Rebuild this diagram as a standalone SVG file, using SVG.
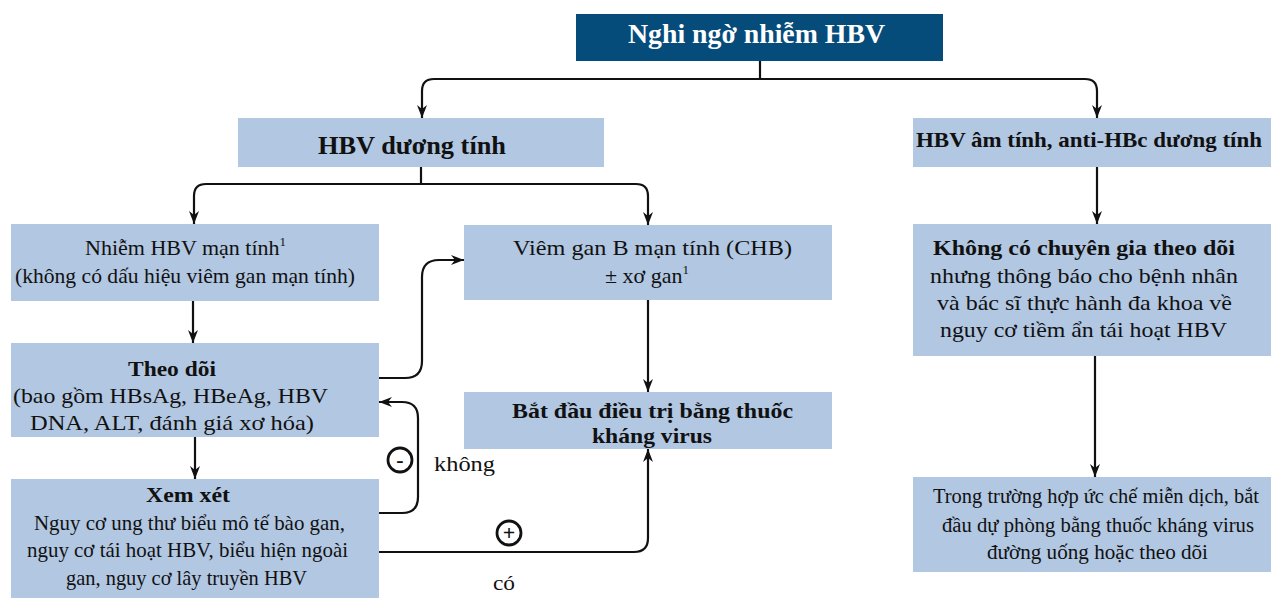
<svg xmlns="http://www.w3.org/2000/svg" width="1271" height="600" viewBox="0 0 1271 600">
<style>
.box{fill:#b1c7e2}
.top{fill:#064c7b}
.t{font-family:"Liberation Serif","Times New Roman",serif;font-size:22px;fill:#111;text-anchor:middle}
.b{font-weight:bold}
.w{fill:#fff;font-size:27px}
.h{font-size:25px}
.n{font-size:20px}
.c{fill:none;stroke:#111;stroke-width:2.2}
.ca{fill:none;stroke:#111;stroke-width:2.2;marker-end:url(#ah)}
.circ{fill:#fff;stroke:#111;stroke-width:2.8}
</style>
<defs>
<marker id="ah" viewBox="0 0 13 10" refX="13" refY="5" markerWidth="13" markerHeight="10" markerUnits="userSpaceOnUse" orient="auto">
<path d="M0,0 L13,5 L0,10 L4,5 z" fill="#111"/>
</marker>
</defs>
<rect width="1271" height="600" fill="#fff"/>

<g id="connectors">
<path class="c" d="M760,61 V79"/>
<path class="ca" d="M760,79 H434 Q422,79 422,91 V118"/>
<path class="ca" d="M760,79 H1085 Q1097,79 1097,91 V118"/>
<path class="c" d="M421,167 V184"/>
<path class="ca" d="M421,184 H206 Q194,184 194,196 V224"/>
<path class="ca" d="M421,184 H636 Q648,184 648,196 V225"/>
<path class="ca" d="M193,301 V343"/>
<path class="ca" d="M195,437 V479"/>
<path class="ca" d="M379,378 H405 Q422,378 422,361 V277 Q422,260 439,260 H464"/>
<path class="ca" d="M379,513 H402 Q418,513 418,497 V418 Q418,402 402,402 H379"/>
<path class="ca" d="M648,300 V392"/>
<path class="ca" d="M379,552 H634 Q648,552 648,538 V449"/>
<path class="ca" d="M1097,167 V224"/>
<path class="ca" d="M1095,356 V477"/>
<circle class="circ" cx="400" cy="460" r="12"/>
<text class="t b" x="400" y="467" font-size="20">-</text>
<circle class="circ" cx="509" cy="533" r="12"/>
<text class="t b" x="509" y="540" font-size="20">+</text>
<text class="t" x="434" y="471" style="text-anchor:start" textLength="61" lengthAdjust="spacingAndGlyphs">không</text>
<text class="t" x="493" y="590" style="text-anchor:start" textLength="22" lengthAdjust="spacingAndGlyphs">có</text>
</g>

<g id="n-top">
<rect class="top" x="576" y="14" width="367" height="47"/>
<text class="t b w" x="756.5" y="43" textLength="257" lengthAdjust="spacingAndGlyphs">Nghi ngờ nhiễm HBV</text>
</g>

<g id="n-pos">
<rect class="box" x="238" y="118" width="366" height="49"/>
<text class="t b h" x="412" y="154" textLength="188" lengthAdjust="spacingAndGlyphs">HBV dương tính</text>
</g>

<g id="n-neg">
<rect class="box" x="913" y="118" width="358" height="49"/>
<text class="t b" x="1089" y="147" font-size="23" textLength="346" lengthAdjust="spacingAndGlyphs">HBV âm tính, anti-HBc dương tính</text>
</g>

<g id="n-chronic">
<rect class="box" x="11" y="224" width="368" height="77"/>
<text class="t" x="85" y="255" style="text-anchor:start">Nhiễm HBV mạn tính<tspan font-size="13" dy="-9">1</tspan></text>
<text class="t" x="185" y="283" textLength="340" lengthAdjust="spacingAndGlyphs">(không có dấu hiệu viêm gan mạn tính)</text>
</g>

<g id="n-monitor">
<rect class="box" x="11" y="343" width="368" height="94"/>
<text class="t b" x="172" y="376" textLength="88" lengthAdjust="spacingAndGlyphs">Theo dõi</text>
<text class="t" x="170.5" y="403" textLength="315" lengthAdjust="spacingAndGlyphs">(bao gồm HBsAg, HBeAg, HBV</text>
<text class="t" x="172" y="430" textLength="284" lengthAdjust="spacingAndGlyphs">DNA, ALT, đánh giá xơ hóa)</text>
</g>

<g id="n-consider">
<rect class="box" x="11" y="479" width="368" height="119"/>
<text class="t b" x="188" y="502" textLength="84" lengthAdjust="spacingAndGlyphs">Xem xét</text>
<text class="t" x="189.5" y="530" textLength="311" lengthAdjust="spacingAndGlyphs">Nguy cơ ung thư biểu mô tế bào gan,</text>
<text class="t" x="187.5" y="557" textLength="321" lengthAdjust="spacingAndGlyphs">nguy cơ tái hoạt HBV, biểu hiện ngoài</text>
<text class="t" x="186.5" y="585" textLength="241" lengthAdjust="spacingAndGlyphs">gan, nguy cơ lây truyền HBV</text>
</g>

<g id="n-chb">
<rect class="box" x="464" y="225" width="368" height="75"/>
<text class="t" x="652.5" y="255" textLength="279" lengthAdjust="spacingAndGlyphs">Viêm gan B mạn tính (CHB)</text>
<text class="t" x="605" y="283" style="text-anchor:start">± xơ gan<tspan font-size="13" dy="-9">1</tspan></text>
</g>

<g id="n-treat">
<rect class="box" x="464" y="392" width="368" height="57"/>
<text class="t b" x="652.5" y="418" textLength="281" lengthAdjust="spacingAndGlyphs">Bắt đầu điều trị bằng thuốc</text>
<text class="t b" x="652" y="443" textLength="120" lengthAdjust="spacingAndGlyphs">kháng virus</text>
</g>

<g id="n-nospec">
<rect class="box" x="913" y="224" width="358" height="132"/>
<text class="t b" x="1084" y="255" textLength="302" lengthAdjust="spacingAndGlyphs">Không có chuyên gia theo dõi</text>
<text class="t" x="1084" y="283" textLength="308" lengthAdjust="spacingAndGlyphs">nhưng thông báo cho bệnh nhân</text>
<text class="t" x="1084.5" y="310" textLength="295" lengthAdjust="spacingAndGlyphs">và bác sĩ thực hành đa khoa về</text>
<text class="t" x="1083.5" y="337" textLength="287" lengthAdjust="spacingAndGlyphs">nguy cơ tiềm ẩn tái hoạt HBV</text>
</g>

<g id="n-immuno">
<rect class="box" x="913" y="477" width="358" height="95"/>
<text class="t n" x="1096" y="503" textLength="326" lengthAdjust="spacingAndGlyphs">Trong trường hợp ức chế miễn dịch, bắt</text>
<text class="t n" x="1098" y="532" textLength="312" lengthAdjust="spacingAndGlyphs">đầu dự phòng bằng thuốc kháng virus</text>
<text class="t n" x="1097.5" y="559" textLength="221" lengthAdjust="spacingAndGlyphs">đường uống hoặc theo dõi</text>
</g>
</svg>
